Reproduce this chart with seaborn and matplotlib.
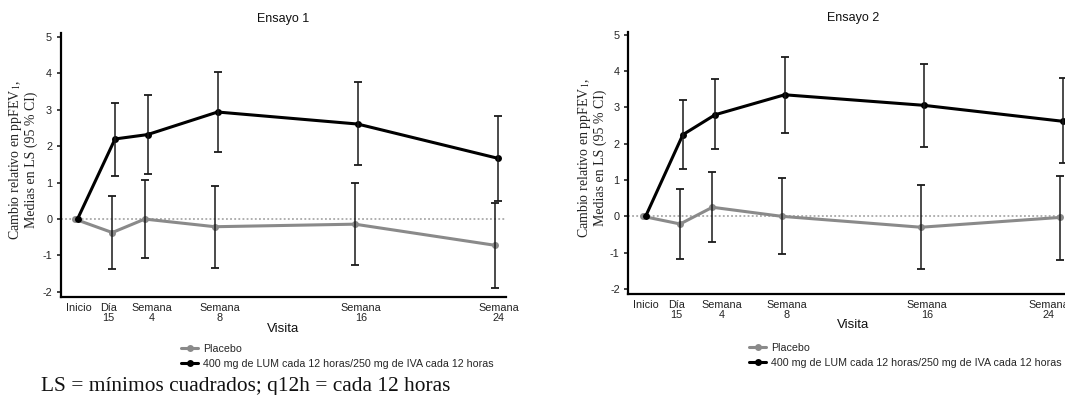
import numpy as np
import pandas as pd
import matplotlib
matplotlib.use("Agg")
import matplotlib.pyplot as plt
import matplotlib.transforms as mtransforms
import seaborn as sns

nan = np.nan

# ---------------- data ----------------
visit_days = [0, 15, 28, 56, 112, 168]
visit_labels = ["Inicio", "Día\n15", "Semana\n4", "Semana\n8", "Semana\n16", "Semana\n24"]
groups = ["Placebo", "400 mg de LUM cada 12 horas/250 mg de IVA cada 12 horas"]
trials = ["Ensayo 1", "Ensayo 2"]

t1_placebo = [0, -0.37, 0.00, -0.21, -0.14, -0.72]
t1_placebo_lo = [nan, -1.37, -1.08, -1.33, -1.27, -1.88]
t1_placebo_hi = [nan, 0.64, 1.08, 0.90, 0.98, 0.44]
t1_active = [0, 2.20, 2.32, 2.94, 2.61, 1.67]
t1_active_lo = [nan, 1.19, 1.25, 1.83, 1.48, 0.50]
t1_active_hi = [nan, 3.20, 3.40, 4.05, 3.76, 2.84]

t2_placebo = [0, -0.21, 0.25, 0.00, -0.30, -0.03]
t2_placebo_lo = [nan, -1.17, -0.71, -1.03, -1.44, -1.19]
t2_placebo_hi = [nan, 0.75, 1.21, 1.06, 0.85, 1.12]
t2_active = [0, 2.25, 2.80, 3.35, 3.06, 2.62]
t2_active_lo = [nan, 1.30, 1.86, 2.31, 1.92, 1.47]
t2_active_hi = [nan, 3.21, 3.78, 4.39, 4.21, 3.80]

y_ticks = [-2, -1, 0, 1, 2, 3, 4, 5]
ylabel = "Cambio relativo en ppFEV$_1$,\nMedias en LS (95 % CI)"
xlabel = "Visita"
footnote = "LS = mínimos cuadrados; q12h = cada 12 horas"

series = {
    "Ensayo 1": {groups[0]: (t1_placebo, t1_placebo_lo, t1_placebo_hi),
                 groups[1]: (t1_active, t1_active_lo, t1_active_hi)},
    "Ensayo 2": {groups[0]: (t2_placebo, t2_placebo_lo, t2_placebo_hi),
                 groups[1]: (t2_active, t2_active_lo, t2_active_hi)},
}

# ---------------- style ----------------
sns.set_style("ticks")
plt.rcParams["font.family"] = ["Liberation Sans", "DejaVu Sans"]
plt.rcParams["mathtext.fontset"] = "stix"
SERIF = ["Liberation Serif", "DejaVu Serif"]

palette = {groups[0]: "#8a8a8a", groups[1]: "#000000"}
dodge = {groups[0]: 0.0, groups[1]: 1.1}

W, H = 1065, 395
fig = plt.figure(figsize=(W / 100, H / 100), dpi=100)
fig.patch.set_facecolor("white")


def rect(l, t, r, b):
    return [l / W, 1 - b / H, (r - l) / W, (b - t) / H]


panels = {
    "Ensayo 1": dict(rect=rect(60.5, 33, 506, 297), xlim=(-5.7, 172.4), ylim=(-2.14, 5.11),
                     leg=(181, 344), ylab_x=-0.051,
                     lab_off=[4, -4, 7, 5, 6, 4]),
    "Ensayo 2": dict(rect=rect(628, 32, 1078, 294), xlim=(-6.0, 175.3), ylim=(-2.14, 5.08),
                     leg=(749, 343), ylab_x=-0.047,
                     lab_off=[3, -4, 9, 5, 6, -11]),
}

for trial in trials:
    p = panels[trial]
    ax = fig.add_axes(p["rect"])
    rows = []
    for g in groups:
        vals, lo, hi = series[trial][g]
        for d, v, l, h in zip(visit_days, vals, lo, hi):
            rows.append(dict(day=d + dodge[g], value=v, lo=l, hi=h, group=g))
    df = pd.DataFrame(rows)

    ax.axhline(0, color="#9a9a9a", lw=1.1, ls=(0, (1.2, 1.5)), zorder=1)

    sns.lineplot(data=df, x="day", y="value", hue="group", hue_order=groups,
                 palette=palette, marker="o", markersize=5, markeredgewidth=0,
                 linewidth=2.2, ax=ax, legend=True, zorder=3)

    for g in groups:
        sub = df[(df["group"] == g) & df["lo"].notna()]
        ax.errorbar(sub["day"], sub["value"],
                    yerr=[sub["value"] - sub["lo"], sub["hi"] - sub["value"]],
                    fmt="none", ecolor="#1a1a1a", elinewidth=1.1, capsize=2.6,
                    capthick=1.3, zorder=4)

    handles, labels = ax.get_legend_handles_labels()
    ax.get_legend().remove()

    ax.set_xlim(*p["xlim"])
    ax.set_ylim(*p["ylim"])
    ax.set_yticks(y_ticks)
    ax.set_yticklabels([str(t) for t in y_ticks])
    ax.set_xticks(visit_days)
    ax.set_xticklabels(visit_labels, linespacing=1.05)
    ax.tick_params(axis="x", length=0, pad=4, labelsize=7.8, colors="#222222")
    ax.tick_params(axis="y", length=3, width=1.2, pad=3, labelsize=7.8, colors="#222222")
    for lab, dx in zip(ax.get_xticklabels(), p["lab_off"]):
        off = mtransforms.ScaledTranslation(dx / 100, 0, fig.dpi_scale_trans)
        lab.set_transform(lab.get_transform() + off)

    sns.despine(ax=ax)
    for s in ["left", "bottom"]:
        ax.spines[s].set_linewidth(1.6)
        ax.spines[s].set_color("black")

    ax.set_xlabel(xlabel, fontsize=9.5, color="#111111")
    ax.xaxis.set_label_coords(0.5, -0.12)
    ax.xaxis.label.set_verticalalignment("center")
    ax.set_ylabel(ylabel, fontsize=10, family=SERIF, color="#222222", linespacing=1.0)
    ax.yaxis.set_label_coords(p["ylab_x"], 0.52)

    ax.text(0.5, 1.053, trial, transform=ax.transAxes, ha="center", va="center",
            fontsize=9, color="#111111")

    lx, ly = p["leg"]
    fig.legend(handles, labels, loc="upper left", bbox_to_anchor=(lx / W, 1 - ly / H),
               frameon=False, fontsize=7.7, borderpad=0, borderaxespad=0,
               handlelength=1.6, handletextpad=0.5, labelspacing=0.45)

fig.text(41 / W, 1 - 386 / H, footnote, family=SERIF, fontsize=15.4, ha="left",
         va="center", color="#111111")

fig.savefig("out.png", dpi=100, facecolor="white")
